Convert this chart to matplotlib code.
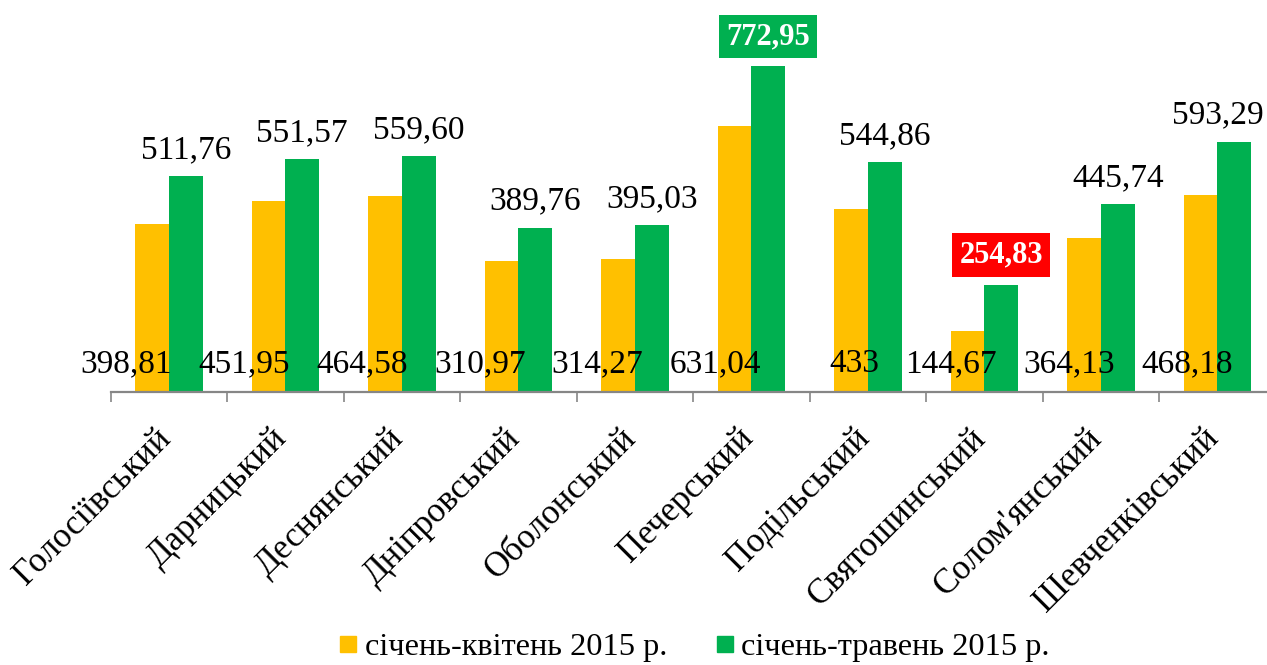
import matplotlib
matplotlib.use("Agg")
import matplotlib.pyplot as plt
from matplotlib.lines import Line2D
import numpy as np

plt.rcParams['font.family'] = ['Liberation Serif', 'DejaVu Serif']

districts = ["Голосіївський", "Дарницький", "Деснянський", "Дніпровський",
             "Оболонський", "Печерський", "Подільський", "Святошинський",
             "Солом'янський", "Шевченківський"]
jan_apr = [398.81, 451.95, 464.58, 310.97, 314.27, 631.04, 433, 144.67, 364.13, 468.18]
jan_may = [511.76, 551.57, 559.60, 389.76, 395.03, 772.95, 544.86, 254.83, 445.74, 593.29]
apr_labels = ["398,81", "451,95", "464,58", "310,97", "314,27", "631,04", "433", "144,67", "364,13", "468,18"]
may_labels = ["511,76", "551,57", "559,60", "389,76", "395,03", "772,95", "544,86", "254,83", "445,74", "593,29"]
series_names = ["січень-квітень 2015 р.", "січень-травень 2015 р."]

ORANGE = "#FFC000"
GREEN = "#00B050"
RED = "#FF0000"

W, H = 1267, 665
fig = plt.figure(figsize=(W / 100, H / 100), dpi=100)
ax_left = 110.7 / W
ax_width = 1165 / W
ax_bottom = 1 - 392 / H
ymax = 900
ax_height = ymax * 0.4218 / H
ax = fig.add_axes([ax_left, ax_bottom, ax_width, ax_height])

x = np.arange(len(districts))
bw = 0.288
ax.bar(x - bw / 2, jan_apr, bw, color=ORANGE, zorder=2)
ax.bar(x + bw / 2, jan_may, bw, color=GREEN, zorder=2)

ax.set_xlim(-0.5, len(districts) - 0.5)
ax.set_ylim(0, ymax)

for s in ["top", "right", "left"]:
    ax.spines[s].set_visible(False)
ax.spines["bottom"].set_color("#868686")
ax.spines["bottom"].set_linewidth(1.6)
ax.yaxis.set_visible(False)

ax.set_xticks(x)
ax.set_xticks(np.arange(-0.5, len(districts) + 0.5, 1), minor=True)
ax.tick_params(axis="x", which="major", length=0, pad=0)
ax.tick_params(axis="x", which="minor", length=7, width=1.2, color="#868686")
ax.set_xticklabels([])

for i, name in enumerate(districts):
    ax.annotate(name, xy=(i, 0), xycoords="data", xytext=(-15, -30),
                textcoords="offset pixels", rotation=45, rotation_mode="anchor",
                ha="right", va="top", fontsize=25, color="black")

# orange labels near the base
for i, lab in enumerate(apr_labels):
    ax.annotate(lab, xy=(i, 0), xytext=(3 + 1.4 * i, 20), textcoords="offset pixels",
                ha="right", va="baseline", fontsize=24, color="black", zorder=3)

# green labels above bars
highlight = {5: GREEN, 7: RED}
green_texts = []
for i, (v, lab) in enumerate(zip(jan_may, may_labels)):
    if i in highlight:
        t = ax.annotate(lab, xy=(i + bw / 2, v), xytext=(0, 15), textcoords="offset pixels",
                        ha="center", va="bottom", fontsize=22, fontweight="bold", color="white",
                        bbox=dict(boxstyle="square,pad=0.24", facecolor=highlight[i], edgecolor="none"))
    else:
        t = ax.annotate(lab, xy=(i + bw / 2, v), xytext=(0, 18), textcoords="offset pixels",
                        ha="center", va="baseline", fontsize=24, color="black")
    green_texts.append(t)

handles = [Line2D([], [], marker="s", linestyle="none", markersize=11.5,
                  markerfacecolor=c, markeredgecolor=c) for c in (ORANGE, GREEN)]
fig.legend(handles, series_names, loc="center", bbox_to_anchor=(0.548, 0.027),
           ncol=2, frameon=False, fontsize=23.3, handlelength=0.6, handletextpad=0.2,
           columnspacing=1.5, borderpad=0, borderaxespad=0)

# keep labels inside the figure (like the chart area clamp)
fig.canvas.draw()
renderer = fig.canvas.get_renderer()
for t in green_texts:
    bb = t.get_window_extent(renderer)
    limit = W - 3
    if bb.x1 > limit:
        dx = bb.x1 - limit
        ox, oy = t.xyann
        t.xyann = (ox - dx, oy)

fig.savefig("out.png", dpi=100)
